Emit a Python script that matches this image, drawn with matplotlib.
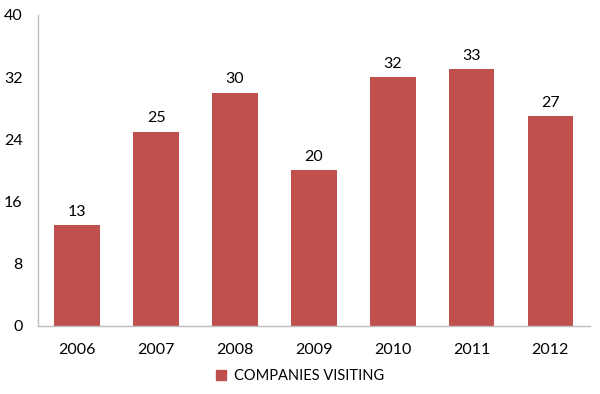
import matplotlib
matplotlib.use("Agg")
import matplotlib.pyplot as plt
from matplotlib.patches import Patch

Years     = ["2006", "2007", "2008", "2009", "2010", "2011", "2012"]
Companies = [13, 25, 30, 20, 32, 33, 27]
YTicks    = [0, 8, 16, 24, 32, 40]

BarColor  = "#C0504D"
plt.rcParams['font.family'] = ['Lato', 'DejaVu Sans']

fig = plt.figure(figsize=(6.0, 3.94), dpi=100)
ax = fig.add_axes([0.063, 0.173, 0.92, 0.789])

x = range(len(Years))
bars = ax.bar(x, Companies, width=0.58, color=BarColor, zorder=2)
for iBar, iValue in zip(bars, Companies):
    ax.text(iBar.get_x() + iBar.get_width()/2, iValue + 0.8, str(iValue),
            ha="center", va="bottom", fontsize=11.5, color="black")

ax.set_xlim(-0.5, len(Years) - 0.5)
ax.set_ylim(0, 40)
ax.set_yticks(YTicks)
ax.set_xticks(list(x))
ax.set_xticklabels(Years)
ax.tick_params(axis="both", length=0, labelsize=11.5, colors="black")
ax.tick_params(axis="x", pad=12)
ax.tick_params(axis="y", pad=11)
for side in ["top", "right"]:
    ax.spines[side].set_visible(False)
for side in ["left", "bottom"]:
    ax.spines[side].set_color("#BFBFBF")
    ax.spines[side].set_linewidth(1.0)

handle = Patch(facecolor=BarColor, edgecolor=BarColor)
fig.legend([handle], ["COMPANIES VISITING"], loc="center", bbox_to_anchor=(0.5, 0.045),
           frameon=False, fontsize=10.5, handlelength=0.7, handleheight=0.7, handletextpad=0.5)

fig.savefig("out.png", dpi=100)
